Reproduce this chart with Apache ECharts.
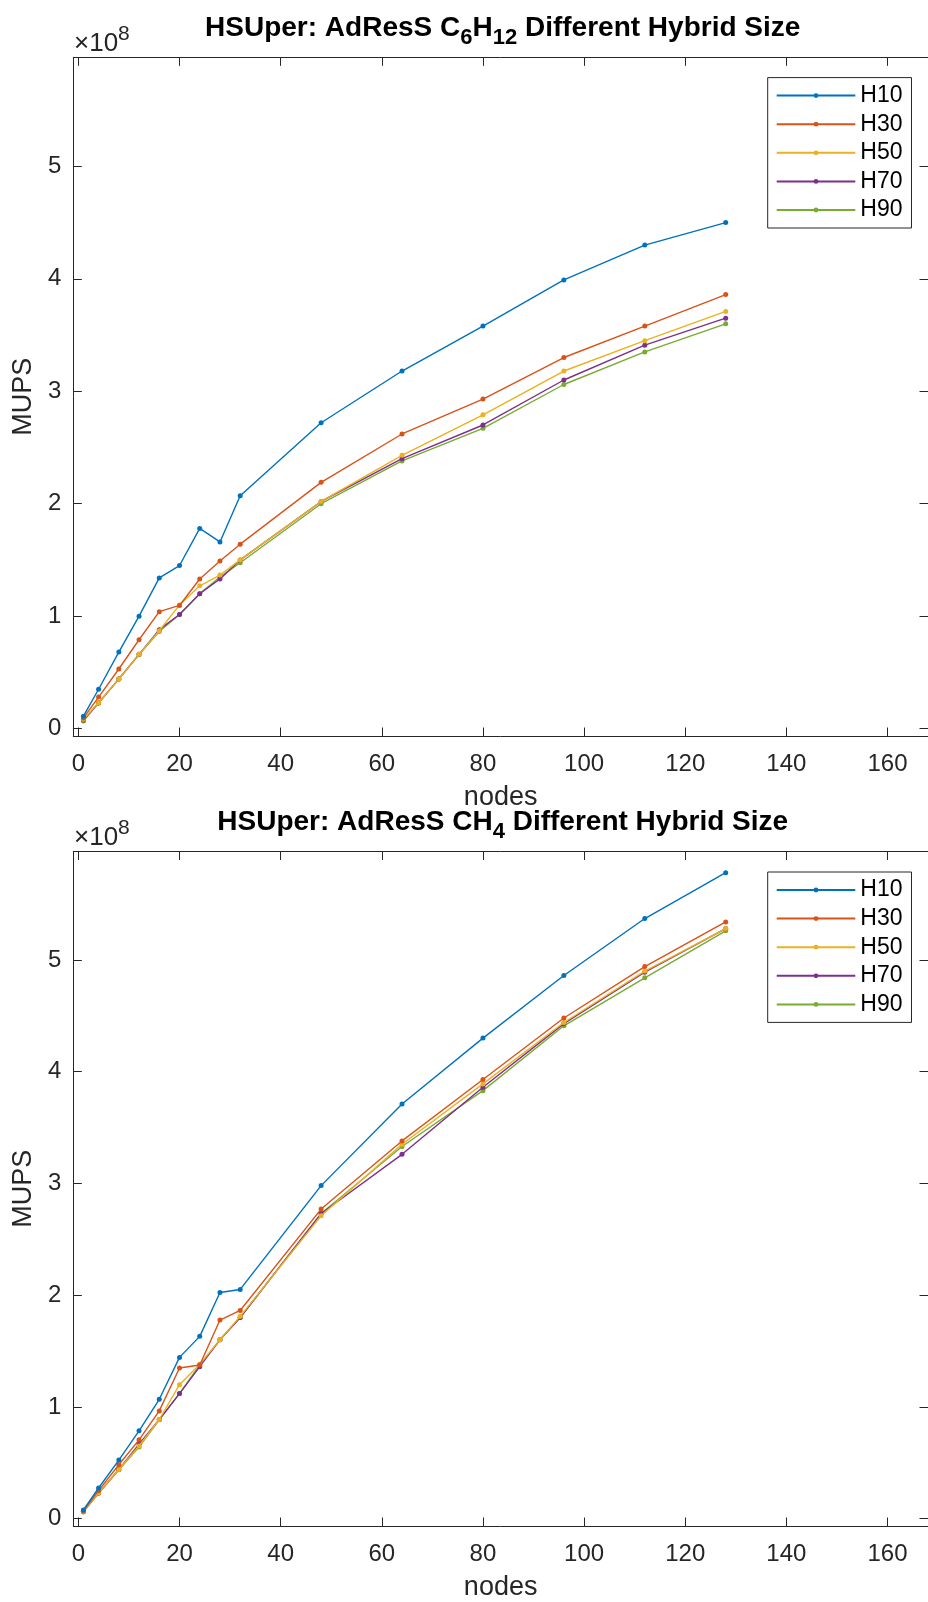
<!DOCTYPE html>
<html><head><meta charset="utf-8">
<script src="https://cdn.jsdelivr.net/npm/echarts@6/dist/echarts.min.js"></script>
<style>html,body{margin:0;padding:0;background:#fff}#c{width:928px;height:1602px}</style>
</head><body><div id="c"></div>
<script>
// ---- data (MUPS in units of 1e8) ----
const nodes = [1, 4, 8, 12, 16, 20, 24, 28, 32, 48, 64, 80, 96, 112, 128];
const seriesNames = ['H10', 'H30', 'H50', 'H70', 'H90'];

const c6h12_H10 = [0.11, 0.35, 0.68, 1.00, 1.34, 1.45, 1.78, 1.66, 2.07, 2.72, 3.18, 3.58, 3.99, 4.30, 4.50];
const c6h12_H30 = [0.095, 0.28, 0.53, 0.79, 1.04, 1.095, 1.33, 1.49, 1.64, 2.19, 2.62, 2.93, 3.30, 3.58, 3.86];
const c6h12_H50 = [0.083, 0.23, 0.44, 0.66, 0.87, 1.10, 1.27, 1.365, 1.50, 2.02, 2.43, 2.79, 3.18, 3.45, 3.71];
const c6h12_H70 = [0.077, 0.23, 0.44, 0.66, 0.88, 1.015, 1.20, 1.33, 1.50, 2.02, 2.40, 2.70, 3.10, 3.41, 3.65];
const c6h12_H90 = [0.068, 0.226, 0.442, 0.659, 0.863, 1.015, 1.20, 1.347, 1.475, 2.00, 2.38, 2.67, 3.06, 3.35, 3.60];

const ch4_H10 = [0.077, 0.274, 0.524, 0.786, 1.068, 1.443, 1.631, 2.024, 2.051, 2.98, 3.71, 4.30, 4.86, 5.37, 5.78];
const ch4_H30 = [0.07, 0.25, 0.482, 0.705, 0.964, 1.348, 1.375, 1.777, 1.863, 2.77, 3.38, 3.93, 4.48, 4.94, 5.34];
const ch4_H50 = [0.065, 0.23, 0.44, 0.65, 0.887, 1.199, 1.381, 1.60, 1.81, 2.71, 3.35, 3.89, 4.44, 4.90, 5.28];
const ch4_H70 = [0.065, 0.23, 0.44, 0.667, 0.887, 1.119, 1.36, 1.60, 1.80, 2.73, 3.26, 3.86, 4.43, 4.89, 5.28];
const ch4_H90 = [0.06, 0.226, 0.438, 0.64, 0.884, 1.119, 1.375, 1.60, 1.80, 2.73, 3.33, 3.83, 4.41, 4.84, 5.26];

const xTicks = [0, 20, 40, 60, 80, 100, 120, 140, 160];
const yTicks = [0, 1, 2, 3, 4, 5];

const topTitle = '{a|HSUper: AdResS C}{s|6}{a|H}{s|12}{a| Different Hybrid Size}';
const bottomTitle = '{a|HSUper: AdResS CH}{s|4}{a| Different Hybrid Size}';
const xName = 'nodes';
const yName = 'MUPS';

// ---- styling ----
const FONT = "'Liberation Sans', Arial, Helvetica, sans-serif";
const AX = '#262626';
const colors = ['#0072BD', '#D95319', '#EDB120', '#7E2F8E', '#77AC30'];
const panels = [
  { top: 57.3, height: 678.7, data: [c6h12_H10, c6h12_H30, c6h12_H50, c6h12_H70, c6h12_H90], legendTop: 77.6, title: topTitle },
  { top: 851.5, height: 678.6, data: [ch4_H10, ch4_H30, ch4_H50, ch4_H70, ch4_H90], legendTop: 872, title: bottomTitle }
];
const GRID_LEFT = 73.3, GRID_W = 859.4;

const grids = [], xAxes = [], yAxes = [], series = [], legends = [], graphics = [];
const lineAx = { show: true, onZero: false, lineStyle: { color: AX, width: 1 } };

panels.forEach((p, gi) => {
  grids.push({ left: GRID_LEFT, top: p.top, width: GRID_W, height: p.height, containLabel: false });
  const xBase = { gridIndex: gi, type: 'value', min: -1, max: 168, axisLine: lineAx, splitLine: { show: false },
    axisTick: { show: true, inside: true, length: 8.5, customValues: xTicks, lineStyle: { color: AX, width: 1 } } };
  xAxes.push(Object.assign({}, xBase, { position: 'bottom', name: xName, nameLocation: 'middle', nameGap: 48,
    nameTextStyle: { fontSize: 27, color: AX, fontFamily: FONT },
    axisLabel: { customValues: xTicks, margin: 16, fontSize: 24, color: AX, fontFamily: FONT } }));
  xAxes.push(Object.assign({}, xBase, { position: 'top', axisLabel: { show: false } }));
  const yBase = { gridIndex: gi, type: 'value', min: -0.066, max: 5.97, axisLine: lineAx, splitLine: { show: false },
    axisTick: { show: true, inside: true, length: 8.5, customValues: yTicks, lineStyle: { color: AX, width: 1 } } };
  yAxes.push(Object.assign({}, yBase, { position: 'left', name: yName, nameLocation: 'middle', nameGap: 34,
    nameTextStyle: { fontSize: 27, color: AX, fontFamily: FONT },
    axisLabel: { customValues: yTicks, margin: 12, fontSize: 24, color: AX, fontFamily: FONT } }));
  yAxes.push(Object.assign({}, yBase, { position: 'right', axisLabel: { show: false } }));

  p.data.forEach((vals, si) => {
    series.push({
      name: seriesNames[si], type: 'line', xAxisIndex: gi * 2, yAxisIndex: gi * 2,
      data: nodes.map((x, i) => [x, vals[i]]),
      symbol: 'circle', symbolSize: 5, showSymbol: true,
      lineStyle: { color: colors[si], width: 1.4 }, itemStyle: { color: colors[si] },
      emphasis: { disabled: true }, z: 2 + (5 - si)
    });
  });

  legends.push({
    orient: 'vertical', left: 767.7, top: p.legendTop, data: seriesNames,
    backgroundColor: '#fff', borderColor: AX, borderWidth: 1, padding: [6.5, 9, 6.5, 8],
    itemWidth: 78.6, itemHeight: 6, itemGap: 5.6,
    textStyle: { fontSize: 23, lineHeight: 23, color: '#000', fontFamily: FONT },
    selectedMode: false
  });

  const dy = gi === 0 ? 0 : 794.2;
  graphics.push({
    type: 'text', x: 502.7, y: 7 + dy, z: 100,
    style: { text: p.title, align: 'center', verticalAlign: 'top', fill: '#000',
      rich: {
        a: { fontSize: 28, fontWeight: 'bold', fontFamily: FONT, fill: '#000', lineHeight: 42 },
        s: { fontSize: 22, fontWeight: 'bold', fontFamily: FONT, fill: '#000', lineHeight: 10, verticalAlign: 'bottom' }
      } }
  });
  graphics.push({
    type: 'text', x: 74, y: 23.5 + dy, z: 100,
    style: { text: '{m|×10}{p|8}', align: 'left', verticalAlign: 'top', fill: AX,
      rich: {
        m: { fontSize: 26, fontFamily: FONT, fill: AX, lineHeight: 40 },
        p: { fontSize: 21, fontFamily: FONT, fill: AX, lineHeight: 10, verticalAlign: 'top' }
      } }
  });
});

const chart = echarts.init(document.getElementById('c'), null, { renderer: 'canvas' });
chart.setOption({
  animation: false,
  backgroundColor: '#fff',
  grid: grids, xAxis: xAxes, yAxis: yAxes, series: series, legend: legends, graphic: graphics
});
</script></body></html>
